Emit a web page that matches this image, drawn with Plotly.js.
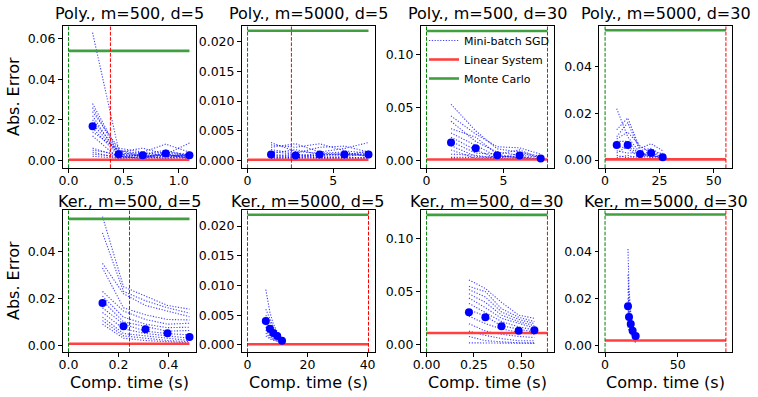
<!DOCTYPE html>
<html>
<head>
<meta charset="utf-8">
<script src="https://cdn.plot.ly/plotly-3.0.1.min.js"></script>
<style>
  html, body { margin: 0; padding: 0; background: #fff; }
  #chart { width: 758px; height: 397px; }
</style>
</head>
<body>
<div id="chart"></div>
<script>
// panel titles, row-major
const panelTitles = ['Poly., m=500, d=5', 'Poly., m=5000, d=5', 'Poly., m=500, d=30', 'Poly., m=5000, d=30',
  'Ker., m=500, d=5', 'Ker., m=5000, d=5', 'Ker., m=500, d=30', 'Ker., m=5000, d=30'];

// Poly., m=500, d=5
const sgdTimes1 = [0.218, 0.455, 0.673, 0.882, 1.097];
const sgdRuns1 = [
  [0.063, 0.005, 0.003, 0.004, 0.003], [0.028, 0.004, 0.002, 0.003, 0.002], [0.026, 0.003, 0.004, 0.002, 0.003],
  [0.024, 0.006, 0.004, 0.008, 0.004], [0.022, 0.002, 0.003, 0.005, 0.002], [0.020, 0.004, 0.006, 0.003, 0.0085],
  [0.018, 0.003, 0.002, 0.002, 0.001], [0.016, 0.002, 0.001, 0.004, 0.002], [0.014, 0.005, 0.002, 0.001, 0.003],
  [0.012, 0.001, 0.003, 0.002, 0.002], [0.006, 0.002, 0.001, 0.003, 0.001], [0.005, 0.003, 0.002, 0.001, 0.002],
  [0.004, 0.001, 0.002, 0.003, 0.001], [0.003, 0.002, 0.001, 0.002, 0.003], [0.002, 0.001, 0.001, 0.001, 0.001]
];
const sgdMean1 = [0.0168, 0.0030, 0.0025, 0.0033, 0.0025];

// Poly., m=5000, d=5
const sgdTimes2 = [1.37, 2.80, 4.21, 5.66, 7.06];
const sgdRuns2 = [
  [0.0030, 0.0015, 0.0012, 0.0010, 0.0008], [0.0026, 0.0022, 0.0028, 0.0016, 0.0012], [0.0022, 0.0028, 0.0014, 0.0020, 0.0030],
  [0.0018, 0.0012, 0.0022, 0.0024, 0.0014], [0.0015, 0.0010, 0.0008, 0.0012, 0.0010], [0.0012, 0.0018, 0.0010, 0.0008, 0.0016],
  [0.0010, 0.0006, 0.0012, 0.0014, 0.0006], [0.0008, 0.0010, 0.0006, 0.0006, 0.0012], [0.0006, 0.0004, 0.0009, 0.0010, 0.0008],
  [0.0005, 0.0008, 0.0004, 0.0005, 0.0005], [0.0004, 0.0003, 0.0005, 0.0004, 0.0004], [0.0003, 0.0005, 0.0003, 0.0003, 0.0003]
];
const sgdMean2 = [0.0010, 0.0008, 0.0010, 0.0010, 0.0010];

// Poly., m=500, d=30
const sgdTimes3 = [1.59, 3.19, 4.59, 6.04, 7.41];
const sgdRuns3 = [
  [0.053, 0.028, 0.011, 0.008, 0.004], [0.042, 0.025, 0.013, 0.012, 0.006], [0.037, 0.018, 0.008, 0.005, 0.003],
  [0.030, 0.022, 0.006, 0.010, 0.002], [0.026, 0.014, 0.004, 0.003, 0.001], [0.022, 0.010, 0.002, 0.007, 0.003],
  [0.018, 0.007, 0.006, 0.002, 0.002], [0.014, 0.004, 0.003, 0.004, 0.001], [0.010, 0.002, 0.004, 0.003, 0.002],
  [0.006, 0.005, 0.002, 0.002, 0.001], [0.003, 0.003, 0.001, 0.001, 0.001], [0.002, 0.001, 0.002, 0.001, 0.001]
];
const sgdMean3 = [0.0170, 0.0116, 0.0050, 0.0047, 0.0020];

// Poly., m=5000, d=30
const sgdTimes4 = [5.35, 10.4, 16.1, 21.2, 26.5];
const sgdRuns4 = [
  [0.022, 0.010, 0.003, 0.002, 0.001], [0.013, 0.018, 0.005, 0.007, 0.004], [0.010, 0.016, 0.004, 0.005, 0.002],
  [0.009, 0.012, 0.006, 0.003, 0.003], [0.008, 0.008, 0.002, 0.004, 0.001], [0.006, 0.005, 0.001, 0.002, 0.0005],
  [0.004, 0.003, 0.003, 0.001, 0.002], [0.002, 0.001, 0.002, 0.003, 0.001], [0.001, 0.002, 0.0005, 0.001, 0.0005],
  [0.003, 0.006, 0.002, 0.002, 0.001]
];
const sgdMean4 = [0.0064, 0.0064, 0.0026, 0.0030, 0.0012];

// Ker., m=500, d=5
const sgdTimes5 = [0.136, 0.220, 0.308, 0.396, 0.484];
const sgdRuns5 = [
  [0.055, 0.025, 0.021, 0.017, 0.0154], [0.048, 0.023, 0.019, 0.016, 0.0137], [0.035, 0.022, 0.017, 0.0146, 0.0122],
  [0.033, 0.016, 0.013, 0.011, 0.0108], [0.023, 0.0146, 0.011, 0.009, 0.0094], [0.021, 0.012, 0.009, 0.0075, 0.0077],
  [0.019, 0.010, 0.008, 0.006, 0.0063], [0.016, 0.009, 0.006, 0.005, 0.0044], [0.014, 0.007, 0.005, 0.004, 0.003],
  [0.012, 0.005, 0.004, 0.003, 0.002], [0.0105, 0.004, 0.003, 0.002, 0.0015], [0.009, 0.003, 0.002, 0.0015, 0.001]
];
const sgdMean5 = [0.0180, 0.0081, 0.0068, 0.0051, 0.0035];

// Ker., m=5000, d=5
const sgdTimes6 = [6.1, 7.46, 8.6, 9.9, 11.5];
const sgdRuns6 = [
  [0.0093, 0.0055, 0.0035, 0.0022, 0.0012], [0.0060, 0.0045, 0.0030, 0.0020, 0.0010], [0.0050, 0.0038, 0.0025, 0.0018, 0.0009],
  [0.0045, 0.0030, 0.0022, 0.0015, 0.0008], [0.0040, 0.0025, 0.0018, 0.0012, 0.0007], [0.0035, 0.0020, 0.0015, 0.0010, 0.0006],
  [0.0030, 0.0018, 0.0012, 0.0009, 0.0005], [0.0025, 0.0015, 0.0010, 0.0008, 0.0005], [0.0020, 0.0012, 0.0009, 0.0007, 0.0004],
  [0.0015, 0.0010, 0.0008, 0.0006, 0.0004]
];
const sgdMean6 = [0.0040, 0.0027, 0.0020, 0.0015, 0.0007];

// Ker., m=500, d=30
const sgdTimes7 = [0.224, 0.311, 0.396, 0.487, 0.570];
const sgdRuns7 = [
  [0.061, 0.053, 0.040, 0.028, 0.025], [0.055, 0.050, 0.034, 0.026, 0.022], [0.052, 0.045, 0.031, 0.024, 0.020],
  [0.048, 0.040, 0.028, 0.022, 0.018], [0.044, 0.035, 0.025, 0.020, 0.016], [0.039, 0.030, 0.022, 0.017, 0.014],
  [0.033, 0.027, 0.018, 0.015, 0.012], [0.027, 0.020, 0.015, 0.012, 0.010], [0.020, 0.013, 0.010, 0.008, 0.007],
  [0.013, 0.009, 0.006, 0.004, 0.004], [0.008, 0.004, 0.003, 0.002, 0.002], [0.002, 0.002, 0.002, 0.002, 0.0015]
];
const sgdMean7 = [0.0307, 0.0260, 0.0175, 0.0134, 0.0138];

// Ker., m=5000, d=30
const sgdTimes8 = [15.8, 16.5, 17.7, 19.0, 21.1];
const sgdRuns8 = [
  [0.041, 0.024, 0.014, 0.008, 0.004], [0.030, 0.020, 0.012, 0.007, 0.003], [0.024, 0.016, 0.011, 0.006, 0.004],
  [0.020, 0.014, 0.010, 0.006, 0.003], [0.018, 0.012, 0.009, 0.005, 0.002], [0.016, 0.011, 0.008, 0.005, 0.003],
  [0.014, 0.010, 0.007, 0.004, 0.002], [0.012, 0.009, 0.006, 0.004, 0.001], [0.010, 0.008, 0.006, 0.003, 0.002],
  [0.008, 0.006, 0.005, 0.003, 0.001]
];
const sgdMean8 = [0.0166, 0.0120, 0.0090, 0.0062, 0.0039];

// baselines per panel
const linErr  = [0.0003, 0.0001, 0.001, 0.0003, 0.0006, 0.0001, 0.0112, 0.002];
const linTime = [0.38, 2.56, 7.85, 55.6, 0.244, 40.3, 0.639, 83.2];
const mcErr   = [0.054, 0.0219, 0.122, 0.0556, 0.054, 0.0219, 0.122, 0.0557];
const mcTime  = [0, 0, 0, 0, 0, 0, 0, 0];

const allTimes = [sgdTimes1, sgdTimes2, sgdTimes3, sgdTimes4, sgdTimes5, sgdTimes6, sgdTimes7, sgdTimes8];
const allRuns  = [sgdRuns1, sgdRuns2, sgdRuns3, sgdRuns4, sgdRuns5, sgdRuns6, sgdRuns7, sgdRuns8];
const allMeans = [sgdMean1, sgdMean2, sgdMean3, sgdMean4, sgdMean5, sgdMean6, sgdMean7, sgdMean8];

// axis setup (ranges)
const xRanges = [[-0.055, 1.152], [-0.353, 7.41], [-0.39, 8.24], [-2.8, 58.4],
  [-0.024, 0.508], [-2.0, 42.3], [-0.032, 0.671], [-4.16, 87.4]];
const yRanges = [[-0.0038, 0.0663], [-0.0013, 0.02269], [-0.007, 0.1267], [-0.0034, 0.0574],
  [-0.0029, 0.0578], [-0.0012, 0.0227], [-0.0066, 0.1266], [-0.0029, 0.0576]];
const xDticks = [0.5, 5, 5, 25, 0.2, 20, 0.25, 50];
const xFormats = ['.1f', 'd', 'd', 'd', '.1f', 'd', '.2f', 'd'];
const yDticks = [0.02, 0.005, 0.05, 0.02, 0.02, 0.005, 0.05, 0.02];
const yFormats = ['.2f', '.3f', '.2f', '.2f', '.2f', '.3f', '.2f', '.2f'];

const W = 758, H = 397;
const colLeft = [62.5, 241.5, 420.5, 599];
const colWidth = 133;
const rowTop = [26, 210];
const rowHeight = 142;

const FONT = 'DejaVu Sans, Arial, sans-serif';
const traces = [];
const layout = {
  width: W, height: H,
  margin: { l: 0, r: 0, t: 0, b: 0 },
  paper_bgcolor: '#fff', plot_bgcolor: '#fff',
  font: { family: FONT, size: 12.5, color: '#000' },
  showlegend: true,
  legend: {
    x: 424 / W, y: 1 - 26 / H, xanchor: 'left', yanchor: 'top',
    bgcolor: 'rgba(0,0,0,0)', borderwidth: 0,
    font: { size: 11 }, itemwidth: 30, tracegroupgap: 0
  },
  annotations: [],
  shapes: []
};

for (let i = 0; i < 8; i++) {
  const s = i === 0 ? '' : String(i + 1);
  const row = Math.floor(i / 4), col = i % 4;
  const x0 = colLeft[col] / W, x1 = (colLeft[col] + colWidth) / W;
  const y1 = 1 - rowTop[row] / H, y0 = 1 - (rowTop[row] + rowHeight) / H;
  const axCommon = {
    showline: true, mirror: true, linecolor: '#000', linewidth: 1,
    ticks: 'outside', ticklen: 3.5, tickwidth: 1, tickcolor: '#000',
    showgrid: false, zeroline: false, tick0: 0,
    tickfont: { family: FONT, size: 12.5, color: '#000' }
  };
  layout['xaxis' + s] = Object.assign({}, axCommon, {
    domain: [x0, x1], anchor: 'y' + s, range: xRanges[i],
    dtick: xDticks[i], tickformat: xFormats[i], ticklabelstandoff: -3
  });
  layout['yaxis' + s] = Object.assign({}, axCommon, {
    domain: [y0, y1], anchor: 'x' + s, range: yRanges[i],
    dtick: yDticks[i], tickformat: yFormats[i]
  });

  const times = allTimes[i];
  const xEnd = Math.max(times[times.length - 1], linTime[i]);
  const showLeg = i === 2;

  // SGD runs, one trace with gaps between runs
  const rx = [], ry = [];
  allRuns[i].forEach(run => {
    run.forEach((v, k) => { rx.push(times[k]); ry.push(v); });
    rx.push(null); ry.push(null);
  });
  traces.push({
    x: rx, y: ry, xaxis: 'x' + s, yaxis: 'y' + s,
    type: 'scatter', mode: 'lines', connectgaps: false,
    name: 'Mini-batch SGD', showlegend: showLeg,
    line: { color: 'rgba(0,0,255,0.75)', width: 1.1, dash: '1.2px,1.6px' },
    hoverinfo: 'skip'
  });

  traces.push({
    x: [mcTime[i], xEnd], y: [linErr[i], linErr[i]], xaxis: 'x' + s, yaxis: 'y' + s,
    type: 'scatter', mode: 'lines', name: 'Linear System', showlegend: showLeg,
    line: { color: '#ff4040', width: 2.6 }
  });
  traces.push({
    x: [mcTime[i], xEnd], y: [mcErr[i], mcErr[i]], xaxis: 'x' + s, yaxis: 'y' + s,
    type: 'scatter', mode: 'lines', name: 'Monte Carlo', showlegend: showLeg,
    line: { color: '#40a040', width: 2.6 }
  });

  traces.push({
    x: times, y: allMeans[i], xaxis: 'x' + s, yaxis: 'y' + s,
    type: 'scatter', mode: 'markers', showlegend: false,
    marker: { color: '#0000ff', size: 8 }
  });

  // vertical dashed time markers
  layout.shapes.push({
    type: 'line', xref: 'x' + s, yref: 'y' + s + ' domain',
    x0: mcTime[i], x1: mcTime[i], y0: 0, y1: 1,
    line: { color: '#008000', width: 1, dash: '3.7px,1.6px' }
  });
  layout.shapes.push({
    type: 'line', xref: 'x' + s, yref: 'y' + s + ' domain',
    x0: linTime[i], x1: linTime[i], y0: 0, y1: 1,
    line: { color: '#ff0000', width: 1, dash: '3.7px,1.6px' }
  });

  // panel title
  layout.annotations.push({
    text: panelTitles[i], xref: 'paper', yref: 'paper',
    x: (x0 + x1) / 2, y: 1 - (row === 0 ? 13 : 201) / H,
    xanchor: 'center', yanchor: 'middle', showarrow: false,
    font: { family: FONT, size: 16, color: '#000' }
  });
  if (col === 0) {
    layout.annotations.push({
      text: 'Abs. Error', xref: 'paper', yref: 'paper', textangle: -90,
      x: 13 / W, y: (y0 + y1) / 2, xanchor: 'center', yanchor: 'middle', showarrow: false,
      font: { family: FONT, size: 16, color: '#000' }
    });
  }
  if (row === 1) {
    layout.annotations.push({
      text: 'Comp. time (s)', xref: 'paper', yref: 'paper',
      x: (x0 + x1) / 2, y: 1 - 382 / H, xanchor: 'center', yanchor: 'middle', showarrow: false,
      font: { family: FONT, size: 16, color: '#000' }
    });
  }
}

Plotly.newPlot('chart', traces, layout, { displayModeBar: false, staticPlot: true });
</script>
</body>
</html>
